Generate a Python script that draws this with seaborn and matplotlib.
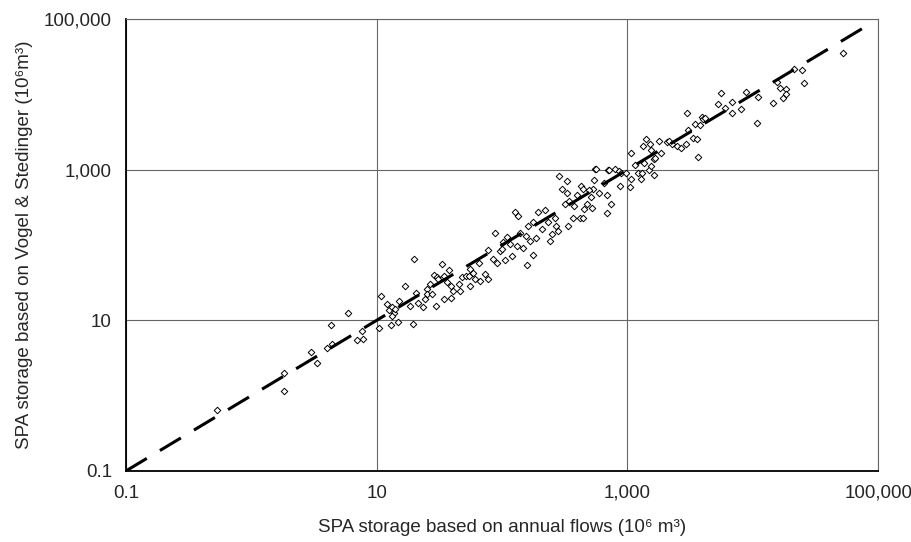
import matplotlib
matplotlib.use("Agg")
import matplotlib.pyplot as plt
import seaborn as sns
import pandas as pd

# storage estimates (10^6 m3)
annual_flows = [
    0.53, 1.82, 1.82, 2.98, 3.33, 4.0, 4.30, 4.38, 5.87, 6.93,
    7.59, 7.73, 10.4, 10.8, 12.0, 12.5, 13.2, 13.7, 13.2, 13.9,
    12.9, 14.7, 16.7, 19.4, 19.7, 20.5, 21.2, 23.3, 25.0, 25.0,
    27.4, 28.4, 29.5, 30.1, 30.6, 33.0, 34.2, 34.2, 36.1, 37.5,
    38.9, 38.9, 40.4, 45.0, 47.5, 51.2, 54.1, 58.2, 65.0, 72.6,
    76.6, 76.6, 84.0, 87.1, 90.4, 95.5, 99.1, 101, 105, 109,
    115, 119, 126, 131, 135, 146, 154, 157, 160, 175,
    178, 185, 192, 222, 243, 262, 267, 277, 282, 298,
    315, 327, 327, 333, 345, 365, 393, 415, 430, 446,
    446, 454, 480, 516, 526, 536, 546, 556, 566, 598,
    656, 681, 693, 706, 719, 733, 802, 863, 879, 896,
    982, 1040, 1077, 1077, 1159, 1224, 1294, 1318, 1340, 1365,
    1416, 1496, 1524, 1552, 1552, 1641, 1641, 1671, 1799, 1866,
    2084, 2161, 2284, 2500, 2692, 2951, 3006, 3062, 3357, 3483,
    3613, 3680, 3817, 3960, 4034, 4185, 5309, 5610, 6040, 6870,
    6870, 8090, 8870, 11070, 10860, 14560, 15670, 16560, 17500, 18490,
    18490, 21420, 24790, 25720, 52600,
    24.1, 26.4, 45.8, 55.1, 66.2, 207, 231, 252, 138, 166,
    378, 498, 55.1, 60.4, 15.2, 18.3,
]
vogel_stedinger = [
    0.65, 2.01, 1.16, 3.82, 2.73, 4.32, 8.74, 4.88, 12.6, 5.52,
    7.27, 5.69, 7.97, 21.2, 16.6, 13.8, 15.2, 12.6, 11.5, 14.3,
    8.74, 9.58, 28.8, 9.01, 65.9, 23.3, 17.1, 15.2, 26.3, 22.6,
    22.6, 40.4, 15.6, 38.0, 35.7, 56.6, 19.4, 39.2, 32.6, 47.1,
    20.0, 28.8, 24.8, 30.7, 38.0, 39.2, 39.2, 43.0, 58.3, 41.7,
    35.7, 86.9, 65.9, 146, 58.3, 84.3, 89.5, 111, 64.0, 129,
    104, 72.3, 278, 98.2, 246, 92.3, 133, 54.9, 181, 199,
    74.5, 125, 270, 287, 114, 231, 176, 155, 812, 562,
    355, 697, 483, 181, 389, 231, 454, 231, 598, 562,
    231, 296, 355, 427, 305, 562, 718, 1007, 1007, 483,
    655, 262, 454, 975, 975, 355, 1007, 946, 598, 890,
    890, 580, 1642, 741, 1138, 890, 741, 890, 2037, 1209,
    2523, 975, 2163, 1800, 1104, 1367, 837, 1409, 2371, 1642,
    2301, 2371, 2163, 2037, 1914, 2163, 5590, 3322, 2600, 3991,
    2523, 1452, 3873, 4945, 4656, 4798, 7360, 10310, 6516, 5590,
    7830, 6320, 10640, 9120, 4110, 7590, 14450, 12020, 8850, 11650,
    10000, 21480, 20850, 14000, 35100,
    19.4, 30.7, 24.8, 28.8, 33.6, 165, 199, 142, 146, 114,
    334, 529, 48.5, 35.7, 18.2, 15.6,
]

# line of equality
line_x = [0.1, 80000]
line_y = [0.1, 80000]

tick_vals = [0.1, 10, 1000, 100000]
tick_labels = ["0.1", "10", "1,000", "100,000"]

df = pd.DataFrame({"annual": annual_flows, "vs": vogel_stedinger})

sns.set_style("white")
plt.rcParams["font.family"] = ["Liberation Sans", "DejaVu Sans"]

fig = plt.figure(figsize=(9.12, 5.42), dpi=100)
ax = fig.add_axes([0.138, 0.131, 0.825, 0.834])
ax.set_xscale("log")
ax.set_yscale("log")

sns.scatterplot(data=df, x="annual", y="vs", marker="D", s=11,
                facecolor="white", edgecolor="black", linewidth=0.7,
                ax=ax, zorder=3)
ax.plot(line_x, line_y, color="black", lw=2.2, linestyle=(0, (8, 5)),
        zorder=4, solid_capstyle="butt", dash_capstyle="butt")

ax.set_xlim(0.1, 100000)
ax.set_ylim(0.1, 100000)
ax.set_xticks(tick_vals)
ax.set_xticklabels(tick_labels)
ax.set_yticks(tick_vals)
ax.set_yticklabels(tick_labels)
ax.minorticks_off()

ax.grid(True, which="major", color="#666666", lw=0.8)
ax.set_axisbelow(True)
for side in ["top", "right"]:
    ax.spines[side].set_color("#666666")
    ax.spines[side].set_linewidth(0.8)
for side in ["left", "bottom"]:
    ax.spines[side].set_color("black")
    ax.spines[side].set_linewidth(1.3)

ax.tick_params(axis="both", which="major", direction="out", length=4,
               width=1, color="black", labelsize=13.5, pad=6)
ax.tick_params(axis="y", pad=6)

ax.set_xlabel("SPA storage based on annual flows (10\u2076 m\u00b3)",
              fontsize=13.5, labelpad=12)
ax.set_ylabel("SPA storage based on Vogel & Stedinger (10\u2076m\u00b3)",
              fontsize=13.5, labelpad=8)

fig.savefig("out.png", dpi=100)
